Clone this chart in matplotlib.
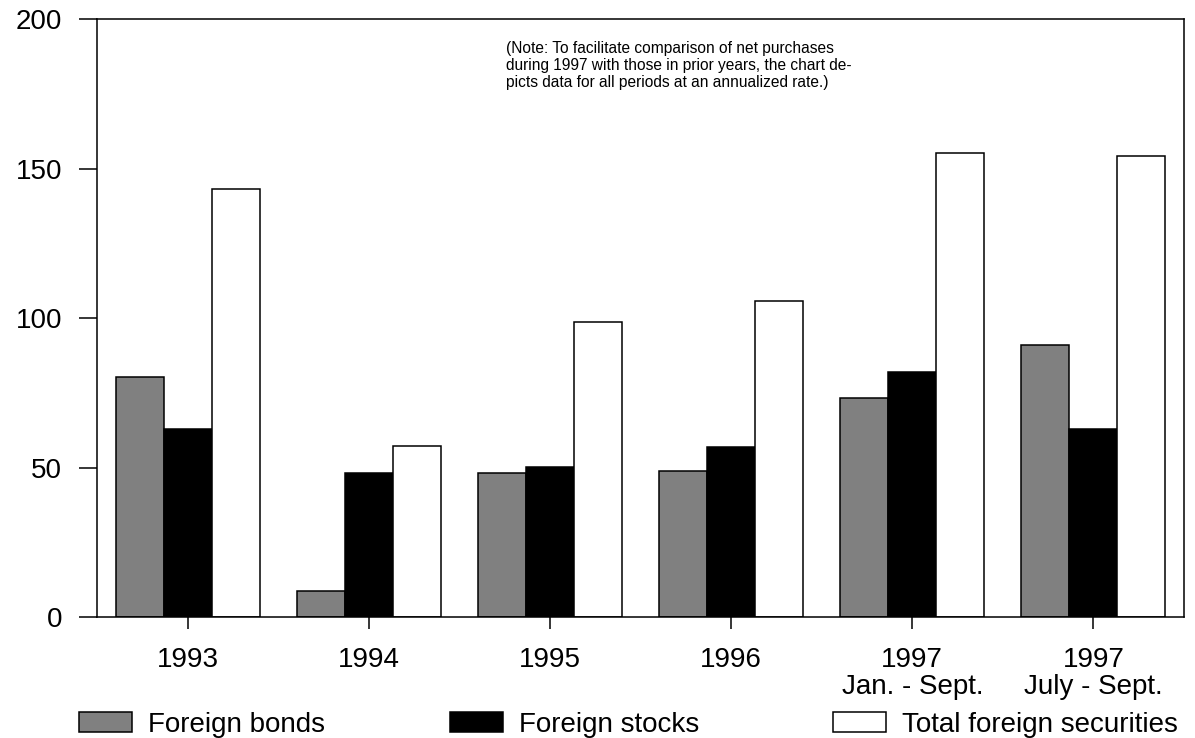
#!/usr/bin/env python3
"""U.S. net purchases of foreign securities, 1993-1997 (annualized)."""

import matplotlib
matplotlib.use("Agg")

import matplotlib.pyplot as plt
import numpy as np
from matplotlib import font_manager

# ── Data ───────────────────────────────────────────────────────────────
periods = ["1993", "1994", "1995", "1996", "1997\nJan. - Sept.", "1997\nJuly - Sept."]
foreign_bonds = [80.4, 9.0, 48.4, 48.8, 73.3, 91.1]
foreign_stocks = [62.9, 48.2, 50.4, 57.1, 82.0, 63.1]
total_foreign = [143.2, 57.3, 98.8, 105.9, 155.1, 154.3]
series_names = ["Foreign bonds", "Foreign stocks", "Total foreign securities"]
y_ticks = [0, 50, 100, 150, 200]

NOTE = ("(Note: To facilitate comparison of net purchases\n"
        "during 1997 with those in prior years, the chart de-\n"
        "picts data for all periods at an annualized rate.)")

# ── Style ──────────────────────────────────────────────────────────────
plt.rcParams["font.family"] = ["Liberation Sans", "DejaVu Sans"]
names = {f.name for f in font_manager.fontManager.ttflist}
if "Liberation Sans Narrow" in names:
    note_family, note_size, note_ls = ["Liberation Sans Narrow", "Liberation Sans"], 14, 1.42
else:
    note_family, note_size, note_ls = ["Liberation Sans", "DejaVu Sans"], 11.2, 1.15

FS = 20
LW = 1.1

fig = plt.figure(figsize=(11.95, 7.38), dpi=100)
ax = fig.add_axes([0.0812, 0.1633, 0.9096, 0.811])

x = np.arange(len(periods))
w = 0.265
colors = ["#808080", "#000000", "#ffffff"]
bars = []
for i, (vals, col, name) in enumerate(zip([foreign_bonds, foreign_stocks, total_foreign],
                                          colors, series_names)):
    b = ax.bar(x + (i - 1) * w, vals, w, color=col, edgecolor="black",
               linewidth=LW, label=name, zorder=2)
    bars.append(b)

ax.set_xlim(-0.5, len(periods) - 0.5)
ax.set_ylim(0, 200)
ax.set_yticks(y_ticks)
ax.set_xticks(x)
ax.set_xticklabels(periods, fontsize=FS, linespacing=1.05)
ax.tick_params(axis="y", direction="out", length=13, width=LW, pad=12, labelsize=FS)
ax.tick_params(axis="x", direction="out", length=8.5, width=LW, pad=13, labelsize=FS)
for s in ax.spines.values():
    s.set_linewidth(LW)

ax.text(0.376, 0.963, NOTE, transform=ax.transAxes, ha="left", va="top",
        fontsize=note_size, family=note_family, linespacing=note_ls)

# legend spread across the bottom, one entry per position
legend_x = [79 / 1195, 450 / 1195, 833 / 1195]
for b, lx in zip(bars, legend_x):
    fig.legend(handles=[b], loc="center left", bbox_to_anchor=(lx, 0.0175),
               frameon=False, fontsize=FS, borderpad=0, borderaxespad=0,
               handlelength=1.9, handleheight=0.72, handletextpad=0.58)

fig.savefig("out.png", dpi=100)
